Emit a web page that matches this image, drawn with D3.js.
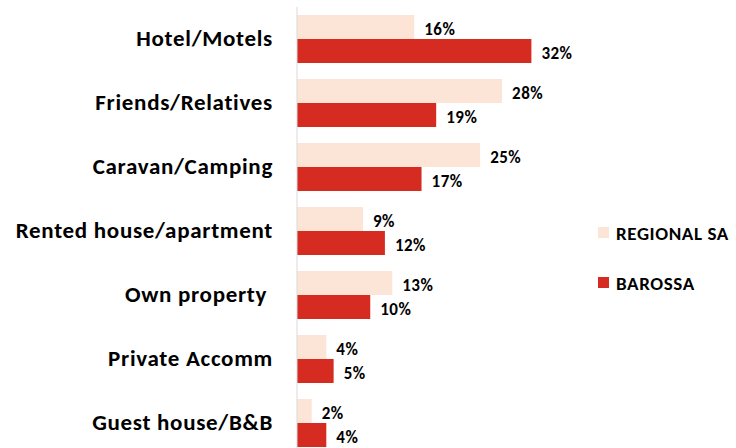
<!DOCTYPE html>
<html>
<head>
<meta charset="utf-8">
<script src="https://cdn.jsdelivr.net/npm/d3@7"></script>
<style>
  body { margin: 0; background: #fff; }
  svg { display: block; }
</style>
</head>
<body>
<script>
// data
var categories = ["Hotel/Motels", "Friends/Relatives", "Caravan/Camping", "Rented house/apartment", "Own property ", "Private Accomm", "Guest house/B&B"]
var seriesNames = ["REGIONAL SA", "BAROSSA"]
var regionalSA = [16, 28, 25, 9, 13, 4, 2]
var barossa = [32, 19, 17, 12, 10, 5, 4]
var seriesColors = ["#fce4d6", "#d62b20"]

var width = 736, height = 448
var font = "Carlito, Calibri, Lato, sans-serif"

var data = categories.map((c, i) => ({cat: c, values: [regionalSA[i], barossa[i]]}))

var xScale = d3.scaleLinear()
    .domain([0, 40])
    .range([297, 590])
var yScale = d3.scaleBand()
    .domain(categories)
    .range([7, 455])
    .paddingInner(0.25)
    .paddingOuter(0.125)
var ySub = d3.scaleBand()
    .domain([0, 1])
    .range([0, yScale.bandwidth()])

const svg = d3.select("body").append("svg")
    .attr("width", width)
    .attr("height", height)
    .attr("font-family", font)
    .attr("font-weight", "bold")

// bars
var groups = svg.append("g")
    .selectAll("g")
    .data(data)
    .join("g")
        .attr("transform", d => `translate(0,${yScale(d.cat)})`)

groups.selectAll("rect")
    .data(d => d.values)
    .join("rect")
        .attr("x", xScale(0))
        .attr("y", (d, i) => ySub(i))
        .attr("width", d => xScale(d) - xScale(0))
        .attr("height", ySub.bandwidth())
        .attr("fill", (d, i) => seriesColors[i])

groups.selectAll("text")
    .data(d => d.values)
    .join("text")
        .attr("x", d => xScale(d) + 10)
        .attr("y", (d, i) => ySub(i) + ySub.bandwidth() / 2 + 2)
        .attr("dy", "0.35em")
        .attr("font-size", 17)
        .attr("letter-spacing", 0.5)
        .attr("fill", "#000")
        .text(d => d + "%")

// category axis
svg.append("g")
    .attr("transform", `translate(${xScale(0)},0)`)
    .call(d3.axisLeft(yScale).tickSize(0).tickPadding(24))
    .call(g => g.select(".domain").attr("stroke", "#d9d9d9").attr("d", "M0,7V448"))
    .call(g => g.selectAll(".tick text")
        .attr("font-family", font)
        .attr("font-size", 23)
        .attr("letter-spacing", 0.7)
        .attr("font-weight", "bold")
        .attr("fill", "#000")
        .style("white-space", "pre"))

// legend
var legend = svg.append("g")
    .selectAll("g")
    .data(seriesNames)
    .join("g")
        .attr("transform", (d, i) => `translate(598,${233 + i * 50})`)
legend.append("rect")
    .attr("y", -6)
    .attr("width", 11)
    .attr("height", 11)
    .attr("fill", (d, i) => seriesColors[i])
legend.append("text")
    .attr("x", 18)
    .attr("dy", "0.35em")
    .attr("font-size", 19)
    .attr("letter-spacing", 0.6)
    .attr("fill", "#000")
    .text(d => d)
</script>
</body>
</html>
